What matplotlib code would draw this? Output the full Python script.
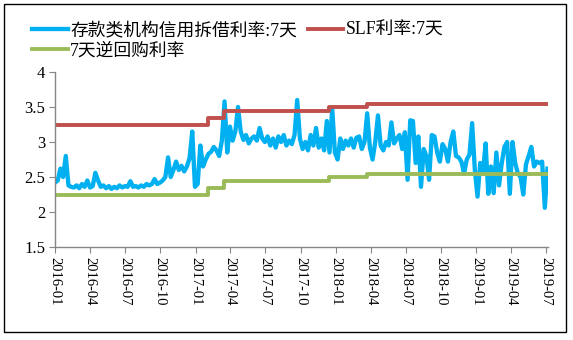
import matplotlib
matplotlib.use("Agg")
import matplotlib.pyplot as plt
import numpy as np
import pandas as pd
from matplotlib.patches import Rectangle

plt.rcParams['font.family'] = ['Liberation Serif', 'Noto Sans CJK SC']
plt.rcParams['axes.unicode_minus'] = False

# 存款类机构信用拆借利率:7天 (周度)
dr007 = [
    2.42, 2.45, 2.62, 2.50, 2.80, 2.38, 2.36, 2.35, 2.38, 2.34,
    2.40, 2.36, 2.45, 2.35, 2.37, 2.56, 2.45, 2.36, 2.38, 2.34,
    2.37, 2.33, 2.36, 2.34, 2.38, 2.35, 2.37, 2.36, 2.44, 2.36,
    2.37, 2.35, 2.38, 2.36, 2.40, 2.38, 2.40, 2.47, 2.40, 2.42,
    2.45, 2.50, 2.78, 2.50, 2.60, 2.72, 2.60, 2.66, 2.58, 2.65,
    2.77, 3.15, 2.36, 2.40, 2.95, 2.65, 2.75, 2.83, 2.86, 2.93,
    2.88, 2.80, 3.02, 3.58, 2.85, 3.22, 3.02, 3.15, 3.50, 3.15,
    3.03, 3.10, 2.98, 3.05, 3.08, 3.02, 3.20, 3.05, 3.00, 3.08,
    2.95, 3.05, 2.92, 3.08, 3.00, 3.10, 2.95, 3.02, 2.97, 3.10,
    3.60, 3.05, 2.90, 3.00, 2.88, 3.10, 2.95, 3.20, 2.92, 3.05,
    2.88, 3.30, 2.85, 3.48, 2.85, 2.75, 3.05, 2.90, 3.02, 2.95,
    3.05, 2.92, 3.06, 3.08, 2.90, 3.00, 3.41, 2.92, 2.75, 3.00,
    3.38, 2.95, 2.88, 3.00, 2.95, 3.28, 2.98, 3.05, 3.10, 2.90,
    3.14, 2.46, 3.31, 3.30, 2.70, 3.08, 2.36, 2.90, 2.80, 2.46,
    3.10, 3.08, 2.85, 2.72, 2.97, 2.90, 2.72, 3.00, 3.15, 2.80,
    2.78, 2.72, 2.55, 2.75, 2.82, 3.27, 2.60, 2.22, 2.70, 2.55,
    2.98, 2.26, 2.65, 2.27, 2.85, 2.38, 2.70, 2.93, 3.00, 2.26,
    3.00, 2.70, 2.55, 2.50, 2.25, 2.68, 2.80, 2.93, 2.65, 2.72,
    2.70, 2.72, 2.06, 2.62,
]
dr_dates = pd.date_range('2016-01-01', periods=len(dr007), freq='7D')

# 政策利率调整日期
policy_dates = pd.to_datetime(['2016-01-01', '2017-02-03', '2017-03-16',
                               '2017-12-14', '2018-03-22', '2019-07-05'])
slf_7d = [3.25, 3.35, 3.45, 3.50, 3.55, 3.55]
repo_7d = [2.25, 2.35, 2.45, 2.50, 2.55, 2.55]

tick_labels = ['2016-01', '2016-04', '2016-07', '2016-10', '2017-01', '2017-04',
               '2017-07', '2017-10', '2018-01', '2018-04', '2018-07', '2018-10',
               '2019-01', '2019-04', '2019-07']

fig = plt.figure(figsize=(5.73, 3.40), dpi=100)
ax = fig.add_axes([0.096, 0.2735, 0.8595, 0.5147])

ax.plot(dr_dates, dr007, color='#00B0F0', lw=3.1, label='存款类机构信用拆借利率:7天')
ax.plot(policy_dates, repo_7d, color='#9BBB59', lw=2.8, drawstyle='steps-post',
        label='7天逆回购利率')
ax.plot(policy_dates, slf_7d, color='#C0504D', lw=2.8, drawstyle='steps-post',
        label='SLF利率:7天')

ax.set_xlim(pd.Timestamp('2016-01-01'), pd.Timestamp('2019-07-05'))
ax.set_ylim(1.5, 4)
ax.set_yticks([1.5, 2, 2.5, 3, 3.5, 4])
ax.set_yticklabels(['1.5', '2', '2.5', '3', '3.5', '4'])
ax.set_xticks(pd.to_datetime(tick_labels))
ax.set_xticklabels(tick_labels, rotation=-90)

for s in ['top', 'right']:
    ax.spines[s].set_visible(False)
for s in ['left', 'bottom']:
    ax.spines[s].set_color('#868686')
    ax.spines[s].set_linewidth(1.0)
ax.tick_params(axis='both', direction='out', length=4, color='#868686', pad=3)
ax.tick_params(axis='y', labelsize=12)
ax.tick_params(axis='x', labelsize=10.5)

fig.legend(loc='upper left', bbox_to_anchor=(32 / 573, 1 - 22 / 340), ncol=2,
           frameon=False, fontsize=12.8, handlelength=2.0, handletextpad=0.15,
           columnspacing=0.6, labelspacing=0.18, borderaxespad=0, borderpad=0)

# 外框
fig.patches.append(Rectangle((4 / 573, 1 - 332 / 340), 562 / 573, 328 / 340,
                             transform=fig.transFigure, fill=False,
                             edgecolor='black', lw=1.0))

fig.savefig('out.png', dpi=100)
